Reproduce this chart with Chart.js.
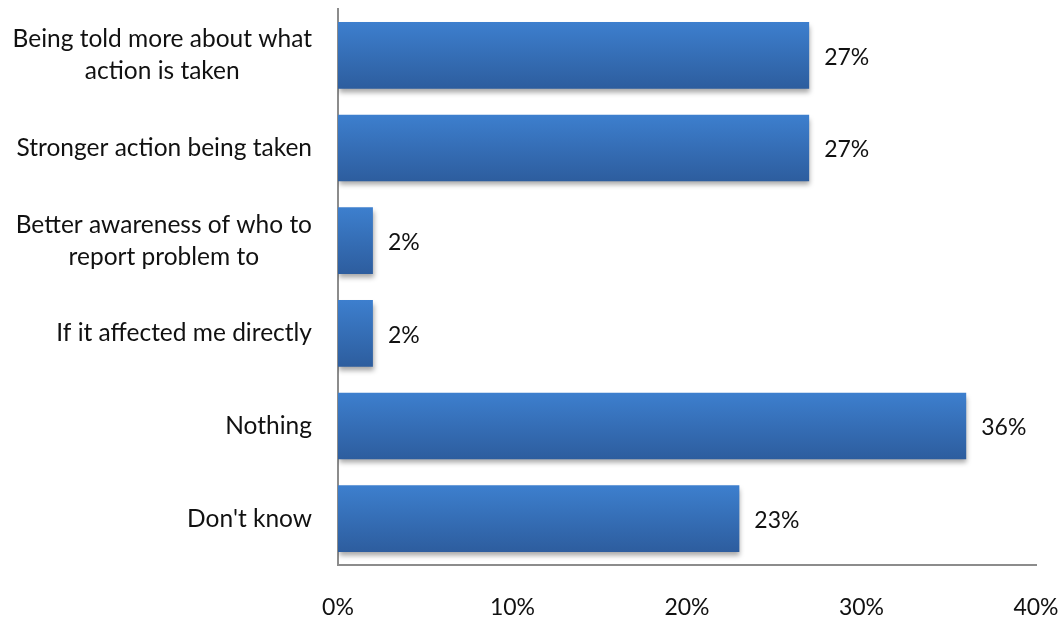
<!DOCTYPE html>
<html>
<head>
<meta charset="utf-8">
<script src="https://cdn.jsdelivr.net/npm/chart.js@4.4.1/dist/chart.umd.min.js"></script>
<style>
    html, body { margin: 0; padding: 0; background: #ffffff; }
    #wrap { width: 1064px; height: 621px; position: relative; }
</style>
</head>
<body>
<div id="wrap"><canvas id="improveChart" width="1064" height="621"></canvas></div>
<script>
// Dados do gráfico
const categories = [
    ['Being told more about what', 'action is taken'],
    ['Stronger action being taken'],
    ['Better awareness of who to', 'report problem to'],
    ['If it affected me directly'],
    ['Nothing'],
    ["Don't know"]
];
const values = [27, 27, 2, 2, 36, 23];
const xTicks = [0, 10, 20, 30, 40];

const FONT = "Lato, 'Open Sans', sans-serif";
const LABEL_SIZE = 24.5;
const NUM_SIZE = 23;
const TEXT_COLOR = '#111111';

// Gradiente e sombra das barras
const barStyle = {
    id: 'barStyle',
    beforeDatasetsDraw(chart) {
        const ctx = chart.ctx;
        chart.getDatasetMeta(0).data.forEach(function(bar) {
            const top = bar.y - bar.height / 2;
            const bottom = bar.y + bar.height / 2;
            const grad = ctx.createLinearGradient(0, top, 0, bottom);
            grad.addColorStop(0, '#3d7fce');
            grad.addColorStop(1, '#2d5d9e');
            bar.options.backgroundColor = grad;
        });
        ctx.save();
        ctx.shadowColor = 'rgba(0, 0, 0, 0.35)';
        ctx.shadowBlur = 5;
        ctx.shadowOffsetX = 1;
        ctx.shadowOffsetY = 4;
    },
    afterDatasetsDraw(chart) {
        chart.ctx.restore();
    }
};

// Rótulos das categorias (centralizados, alinhados à direita do eixo)
const categoryLabels = {
    id: 'categoryLabels',
    afterDraw(chart) {
        const ctx = chart.ctx;
        const yScale = chart.scales.y;
        const rightEdge = chart.chartArea.left - 26;
        const lineHeight = 32;
        ctx.save();
        ctx.font = LABEL_SIZE + 'px ' + FONT;
        ctx.fillStyle = TEXT_COLOR;
        ctx.textAlign = 'center';
        ctx.textBaseline = 'middle';
        categories.forEach(function(lines, i) {
            const maxW = Math.max.apply(null, lines.map(l => ctx.measureText(l).width));
            const cx = rightEdge - maxW / 2;
            const cy = yScale.getPixelForValue(i);
            lines.forEach(function(line, j) {
                ctx.fillText(line, cx, cy + (j - (lines.length - 1) / 2) * lineHeight);
            });
        });
        ctx.restore();
    }
};

// Valores no fim de cada barra
const valueLabels = {
    id: 'valueLabels',
    afterDatasetsDraw(chart) {
        const ctx = chart.ctx;
        ctx.save();
        ctx.font = NUM_SIZE + 'px ' + FONT;
        ctx.fillStyle = TEXT_COLOR;
        ctx.textAlign = 'left';
        ctx.textBaseline = 'middle';
        chart.getDatasetMeta(0).data.forEach(function(bar, i) {
            ctx.fillText(values[i] + '%', bar.x + 15, bar.y + 2);
        });
        ctx.restore();
    }
};

new Chart(document.getElementById('improveChart').getContext('2d'), {
    type: 'bar',
    data: {
        labels: categories.map(c => c.join(' ')),
        datasets: [{
            data: values,
            // função => cada barra recebe seu próprio objeto de opções
            backgroundColor: function() { return '#3570b8'; },
            borderWidth: 0,
            categoryPercentage: 0.8,
            barPercentage: 0.9
        }]
    },
    options: {
        indexAxis: 'y',
        responsive: false,
        animation: false,
        layout: { padding: { top: 9, right: 28, left: 0, bottom: 0 } },
        plugins: {
            legend: { display: false },
            tooltip: { enabled: false }
        },
        scales: {
            x: {
                min: 0,
                max: 40,
                afterBuildTicks: function(scale) {
                    scale.ticks = xTicks.map(v => ({ value: v }));
                },
                afterFit: function(scale) {
                    scale.height = 56;
                    scale.paddingLeft = 0;
                    scale.paddingRight = 0;
                },
                grid: { display: false, drawTicks: false },
                border: { color: '#8c8c8c', width: 2 },
                ticks: {
                    padding: 29,
                    maxRotation: 0,
                    color: TEXT_COLOR,
                    font: { family: FONT, size: NUM_SIZE },
                    callback: function(value) { return value + '%'; }
                }
            },
            y: {
                afterFit: function(scale) { scale.width = 338; },
                grid: { display: false, drawTicks: false },
                border: { color: '#8c8c8c', width: 2 },
                ticks: { display: false }
            }
        }
    },
    plugins: [barStyle, categoryLabels, valueLabels]
});
</script>
</body>
</html>
